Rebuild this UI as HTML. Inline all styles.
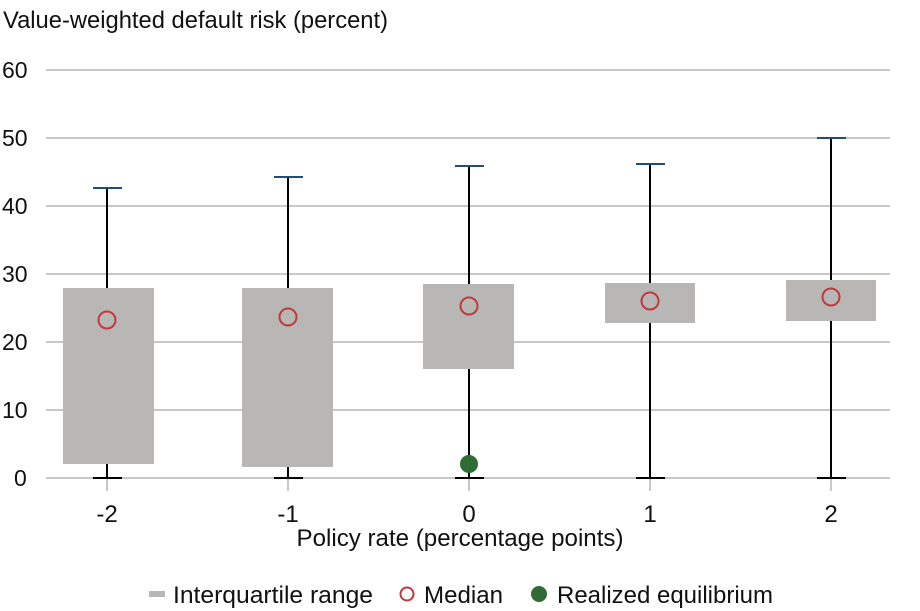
<!DOCTYPE html>
<html><head><meta charset="utf-8"><style>
html,body{margin:0;padding:0;background:#fff;}
svg{display:block;font-family:"Liberation Sans",Arial,sans-serif;}
</style></head><body>
<svg width="920" height="611" viewBox="0 0 920 611">
<text x="3" y="28" font-size="24" fill="#111" textLength="385" lengthAdjust="spacingAndGlyphs">Value-weighted default risk (percent)</text>
<g stroke="#c8c8c8" stroke-width="2">
<line x1="46" y1="70" x2="890" y2="70"/><line x1="46" y1="138" x2="890" y2="138"/>
<line x1="46" y1="206" x2="890" y2="206"/><line x1="46" y1="274" x2="890" y2="274"/>
<line x1="46" y1="342" x2="890" y2="342"/><line x1="46" y1="410" x2="890" y2="410"/>
<line x1="46" y1="478" x2="890" y2="478"/>
<line x1="107" y1="478" x2="107" y2="491"/><line x1="288" y1="478" x2="288" y2="491"/>
<line x1="469" y1="478" x2="469" y2="491"/><line x1="650" y1="478" x2="650" y2="491"/>
<line x1="831" y1="478" x2="831" y2="491"/>
</g>
<g font-size="23" fill="#111" text-anchor="start">
<text x="2" y="78">60</text><text x="2" y="146">50</text><text x="2" y="214">40</text>
<text x="2" y="282">30</text><text x="2" y="350">20</text><text x="2" y="418">10</text>
<text x="14" y="486">0</text>
</g>
<g stroke="#000" stroke-width="2">
<line x1="107" y1="188" x2="107" y2="478"/><line x1="288" y1="177" x2="288" y2="478"/>
<line x1="469" y1="166" x2="469" y2="478"/><line x1="650" y1="164" x2="650" y2="478"/>
<line x1="831" y1="138" x2="831" y2="478"/>
<line x1="93" y1="478" x2="122" y2="478"/><line x1="274" y1="478" x2="303" y2="478"/>
<line x1="455" y1="478" x2="484" y2="478"/><line x1="636" y1="478" x2="665" y2="478"/>
<line x1="817" y1="478" x2="846" y2="478"/>
</g>
<g stroke="#1f4e79" stroke-width="2">
<line x1="93" y1="188" x2="122" y2="188"/><line x1="274" y1="177" x2="303" y2="177"/>
<line x1="455" y1="166" x2="484" y2="166"/><line x1="636" y1="164" x2="665" y2="164"/>
<line x1="817" y1="138" x2="846" y2="138"/>
</g>
<g fill="#b8b7b5">
<rect x="63" y="288" width="91" height="176"/>
<rect x="242" y="288" width="91" height="179"/>
<rect x="423" y="284" width="91" height="85"/>
<rect x="605" y="283" width="90" height="40"/>
<rect x="786" y="280" width="90" height="41"/>
</g>
<g fill="none" stroke="#c0393b" stroke-width="2">
<circle cx="107" cy="320" r="8.5"/><circle cx="288" cy="317" r="8.5"/>
<circle cx="469" cy="306" r="8.5"/><circle cx="650" cy="301" r="8.5"/>
<circle cx="831" cy="297" r="8.5"/>
</g>
<circle cx="469" cy="464" r="9" fill="#2e6b35"/>
<g font-size="24" fill="#111" text-anchor="middle">
<text x="107" y="522">-2</text><text x="288" y="522">-1</text><text x="469" y="522">0</text>
<text x="650" y="522">1</text><text x="831" y="522">2</text>
<text x="460" y="546" textLength="327" lengthAdjust="spacingAndGlyphs">Policy rate (percentage points)</text>
</g>
<rect x="149" y="591" width="16" height="6" fill="#b8b7b5"/>
<text x="173" y="603" font-size="24" fill="#111" textLength="200" lengthAdjust="spacingAndGlyphs">Interquartile range</text>
<circle cx="407" cy="594" r="6.5" fill="none" stroke="#c0393b" stroke-width="2"/>
<text x="424" y="603" font-size="24" fill="#111" textLength="79" lengthAdjust="spacingAndGlyphs">Median</text>
<circle cx="539" cy="594" r="8" fill="#2e6b35"/>
<text x="557" y="603" font-size="24" fill="#111" textLength="216" lengthAdjust="spacingAndGlyphs">Realized equilibrium</text>
</svg>
</body></html>
